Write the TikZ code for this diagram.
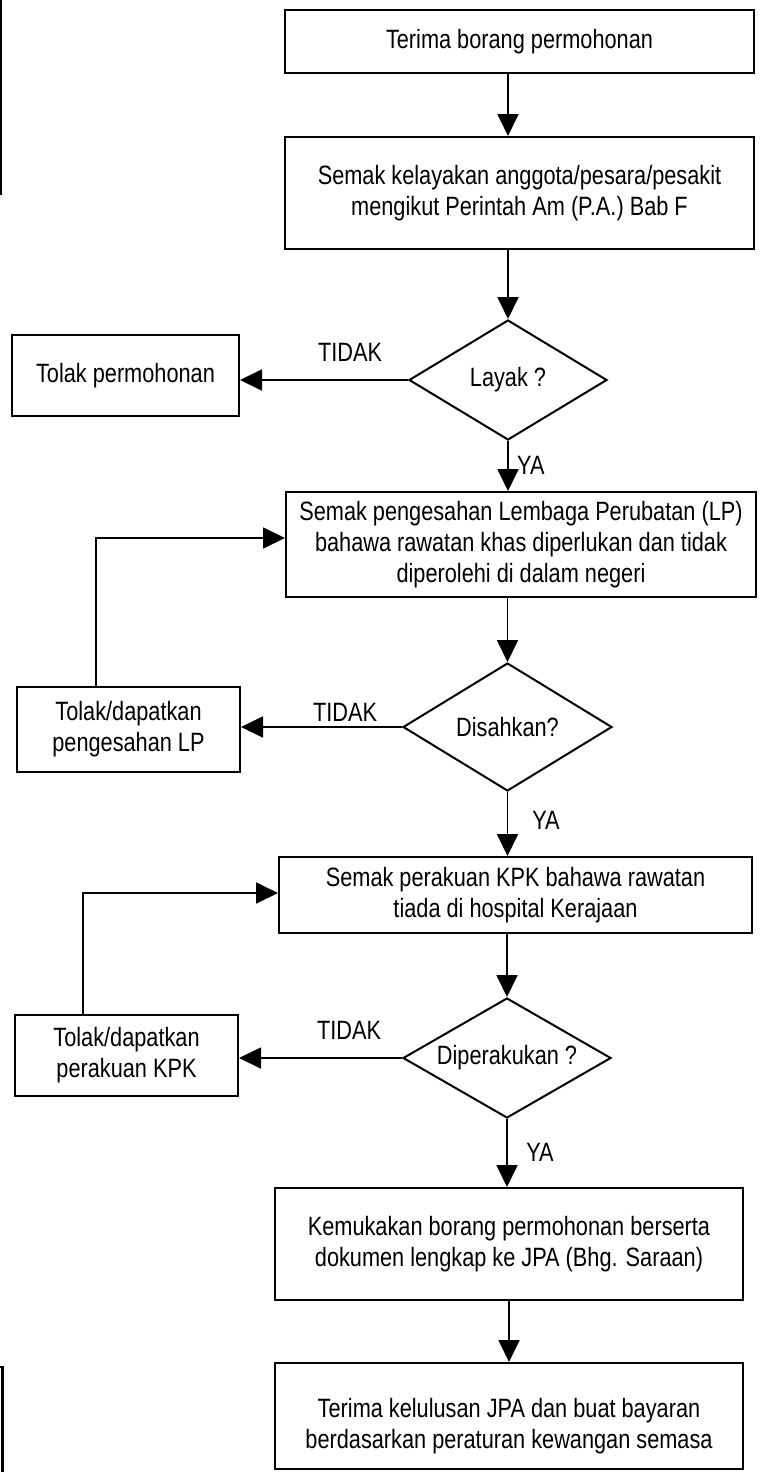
\documentclass[tikz,border=0pt]{standalone}
\usepackage{fontspec}
\setmainfont{Liberation Sans}[FakeStretch=0.82]
\usetikzlibrary{shapes.geometric,arrows.meta}
\begin{document}
\begin{tikzpicture}[x=1pt,y=-1pt,
  every node/.style={font=\fontsize{26.5}{31}\selectfont},
  box/.style={draw,line width=2pt,rectangle,inner sep=0pt,align=center},
  decision/.style={draw,line width=2pt,diamond,inner sep=0pt},
  arr/.style={line width=1.8pt,-{Triangle[length=22pt,width=21pt]}},
  lbl/.style={inner sep=0pt},
  edgemark/.style={line width=2.5pt}]
\useasboundingbox (0,0) rectangle (762,1472);

% main column
\node[box,minimum width=469pt,minimum height=63pt] (b1) at (519.5,41.5) {Terima borang permohonan};
\node[box,minimum width=469pt,minimum height=112pt] (b2) at (519.5,193)
  {Semak kelayakan anggota/pesara/pesakit\\mengikut Perintah Am (P.A.) Bab F};
\node[decision,minimum width=198pt,minimum height=120pt,shape aspect=1.65] (d1) at (508,380) {Layak ?};
\node[box,minimum width=470pt,minimum height=105pt] (b3) at (521,544.5)
  {Semak pengesahan Lembaga Perubatan (LP)\\bahawa rawatan khas diperlukan dan tidak\\diperolehi di dalam negeri};
\node[decision,minimum width=209pt,minimum height=128pt,shape aspect=1.63] (d2) at (507.5,727) {Disahkan?};
\node[box,minimum width=473pt,minimum height=76pt] (b4) at (515.5,895)
  {Semak perakuan KPK bahawa rawatan\\tiada di hospital Kerajaan};
\node[decision,minimum width=208pt,minimum height=120pt,shape aspect=1.73] (d3) at (507,1058) {Diperakukan ?};
\node[box,minimum width=468pt,minimum height=112pt] (b5) at (509,1244)
  {Kemukakan borang permohonan berserta\\dokumen lengkap ke JPA (Bhg. Saraan)};
\node[box,minimum width=468pt,minimum height=106pt] (b6) at (509,1416) {};
\node[lbl,align=center] (b6t) at (509,1426)
  {Terima kelulusan JPA dan buat bayaran\\berdasarkan peraturan kewangan semasa};

% side column
\node[box,minimum width=227pt,minimum height=81pt] (t1) at (125.5,375.5) {Tolak permohonan};
\node[box,minimum width=223pt,minimum height=85pt] (t2) at (128.5,729.5) {Tolak/dapatkan\\pengesahan LP};
\node[box,minimum width=223pt,minimum height=81pt] (t3) at (126.5,1055.5) {Tolak/dapatkan\\perakuan KPK};

% branch labels
\node[lbl] (n1) at (350,352) {TIDAK};
\node[lbl] (n2) at (345,712) {TIDAK};
\node[lbl] (n3) at (349,1030) {TIDAK};
\node[lbl,anchor=west] (y1) at (517,465) {YA};
\node[lbl] (y2) at (546,820) {YA};
\node[lbl] (y3) at (540,1152) {YA};

% flow
\draw[arr] (b1.south -| d1.north) -- (b2.north -| d1.north);
\draw[arr] (b2.south -| d1.north) -- (d1.north);
\draw[arr] (d1.west) -- (d1.west -| t1.east);
\draw[arr] (d1.south) -- (d1.south |- b3.north);
\draw[arr] (b3.south -| d2.north) -- (d2.north);
\draw[arr] (d2.west) -- (d2.west -| t2.east);
\draw[arr] (d2.south) -- (d2.south |- b4.north);
\draw[arr] (b4.south -| d3.north) -- (d3.north);
\draw[arr] (d3.west) -- (d3.west -| t3.east);
\draw[arr] (d3.south) -- (d3.south |- b5.north);
\draw[arr] (b5.south -| b6t.north) -- (b6.north -| b6t.north);

% return loops
\coordinate (r2) at (96,538);
\coordinate (r3) at (83,893);
\draw[arr] (t2.north -| r2) |- (b3.west |- r2);
\draw[arr] (t3.north -| r3) |- (b4.west |- r3);

% partial frames at the left margin
\draw[edgemark] (1,0) -- (1,195);
\draw[edgemark] (0,1367) -- (2.5,1367) -- (2.5,1472);
\end{tikzpicture}
\end{document}
